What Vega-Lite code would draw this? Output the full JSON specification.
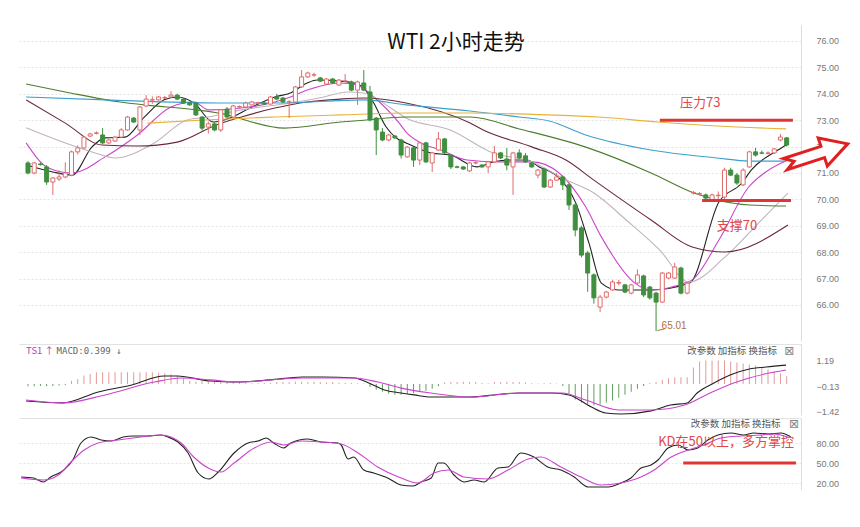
{
  "$schema": "https://vega.github.io/schema/vega-lite/v6.json",
  "background": "white",
  "padding": {"left": 18, "top": 25, "right": 0, "bottom": 0},
  "bounds": "flush",
  "spacing": 3,
  "resolve": {"scale": {"color": "independent", "x": "independent", "y": "independent"}},
  "config": {"view": {"stroke": null}, "axis": {"labelFont": "Liberation Sans", "labelFontSize": 9, "labelColor": "#777", "title": null, "labelOverlap": false}},
  "datasets": {
    "k": [
      {"i":0,"o":71.38,"c":71.0,"h":71.45,"l":70.95},{"i":1,"o":71.0,"c":71.38,"h":71.42,"l":70.95},{"i":2,"o":71.34,"c":71.32,"h":71.4,"l":71.28},{"i":3,"o":71.23,"c":70.66,"h":71.3,"l":70.55},{"i":4,"o":70.66,"c":70.81,"h":70.85,"l":70.17},{"i":5,"o":70.77,"c":70.85,"h":71.1,"l":70.7},{"i":6,"o":70.85,"c":71.0,"h":71.4,"l":70.8},{"i":7,"o":70.92,"c":71.8,"h":71.85,"l":70.88},{"i":8,"o":71.8,"c":71.95,"h":72.05,"l":71.7},{"i":9,"o":71.95,"c":72.36,"h":72.4,"l":71.9},
      {"i":10,"o":72.4,"c":72.48,"h":72.52,"l":72.36},{"i":11,"o":72.5,"c":72.52,"h":72.58,"l":72.46},{"i":12,"o":72.44,"c":72.14,"h":72.7,"l":72.1},{"i":13,"o":72.14,"c":72.25,"h":72.3,"l":72.1},{"i":14,"o":72.21,"c":72.36,"h":72.4,"l":72.18},{"i":15,"o":72.36,"c":72.63,"h":72.7,"l":72.32},{"i":16,"o":72.63,"c":73.12,"h":73.16,"l":72.6},{"i":17,"o":73.08,"c":72.93,"h":73.12,"l":72.9},{"i":18,"o":72.63,"c":73.5,"h":73.54,"l":72.44},{"i":19,"o":73.54,"c":73.8,"h":73.95,"l":73.5},
      {"i":20,"o":73.76,"c":73.78,"h":73.9,"l":73.62},{"i":21,"o":73.77,"c":73.88,"h":73.92,"l":73.74},{"i":22,"o":73.84,"c":73.86,"h":73.92,"l":73.8},{"i":23,"o":73.88,"c":73.95,"h":74.1,"l":73.85},{"i":24,"o":73.95,"c":73.8,"h":74.0,"l":73.76},{"i":25,"o":73.8,"c":73.65,"h":73.84,"l":73.62},{"i":26,"o":73.65,"c":73.58,"h":73.7,"l":73.55},{"i":27,"o":73.65,"c":73.2,"h":73.7,"l":73.16},{"i":28,"o":73.12,"c":72.7,"h":73.16,"l":72.6},{"i":29,"o":72.74,"c":72.86,"h":72.95,"l":72.5},
      {"i":30,"o":72.86,"c":72.63,"h":72.92,"l":72.58},{"i":31,"o":72.63,"c":73.39,"h":73.42,"l":72.55},{"i":32,"o":73.42,"c":73.12,"h":73.5,"l":73.08},{"i":33,"o":73.12,"c":73.54,"h":73.58,"l":73.08},{"i":34,"o":73.5,"c":73.52,"h":73.56,"l":73.46},{"i":35,"o":73.5,"c":73.65,"h":73.7,"l":73.46},{"i":36,"o":73.58,"c":73.69,"h":73.73,"l":73.55},{"i":37,"o":73.64,"c":73.66,"h":73.7,"l":73.6},{"i":38,"o":73.65,"c":73.61,"h":73.68,"l":73.58},{"i":39,"o":73.61,"c":73.88,"h":73.92,"l":73.58},
      {"i":40,"o":73.88,"c":73.8,"h":74.0,"l":73.76},{"i":41,"o":73.84,"c":73.69,"h":73.88,"l":73.65},{"i":42,"o":73.69,"c":73.7,"h":73.76,"l":73.08},{"i":43,"o":73.69,"c":74.26,"h":74.3,"l":73.6},{"i":44,"o":74.26,"c":74.64,"h":74.9,"l":74.22},{"i":45,"o":74.64,"c":74.79,"h":74.84,"l":74.6},{"i":46,"o":74.71,"c":74.72,"h":74.8,"l":74.64},{"i":47,"o":74.6,"c":74.48,"h":74.64,"l":74.45},{"i":48,"o":74.37,"c":74.56,"h":74.6,"l":74.33},{"i":49,"o":74.56,"c":74.41,"h":74.6,"l":74.37},
      {"i":50,"o":74.33,"c":74.52,"h":74.56,"l":74.3},{"i":51,"o":74.48,"c":74.49,"h":74.75,"l":74.45},{"i":52,"o":74.45,"c":74.14,"h":74.5,"l":74.1},{"i":53,"o":74.14,"c":74.45,"h":74.5,"l":73.58},{"i":54,"o":74.41,"c":74.14,"h":74.9,"l":74.1},{"i":55,"o":74.07,"c":73.01,"h":74.3,"l":72.95},{"i":56,"o":73.08,"c":72.63,"h":73.12,"l":71.68},{"i":57,"o":72.55,"c":72.25,"h":72.7,"l":72.2},{"i":58,"o":72.25,"c":72.44,"h":72.48,"l":72.2},{"i":59,"o":72.4,"c":72.33,"h":72.44,"l":72.3},
      {"i":60,"o":72.25,"c":71.68,"h":72.3,"l":71.55},{"i":61,"o":71.61,"c":71.98,"h":72.02,"l":71.58},{"i":62,"o":71.95,"c":71.49,"h":71.98,"l":71.23},{"i":63,"o":71.49,"c":72.14,"h":72.18,"l":71.3},{"i":64,"o":72.14,"c":71.42,"h":72.18,"l":71.38},{"i":65,"o":71.38,"c":71.76,"h":71.8,"l":71.04},{"i":66,"o":71.87,"c":72.29,"h":72.55,"l":71.84},{"i":67,"o":72.29,"c":71.76,"h":72.33,"l":71.72},{"i":68,"o":71.68,"c":71.23,"h":71.72,"l":71.15},{"i":69,"o":71.23,"c":71.22,"h":71.28,"l":71.18},
      {"i":70,"o":71.23,"c":71.15,"h":71.26,"l":71.12},{"i":71,"o":71.08,"c":71.38,"h":71.42,"l":71.04},{"i":72,"o":71.38,"c":71.39,"h":71.45,"l":71.33},{"i":73,"o":71.3,"c":71.23,"h":71.34,"l":71.2},{"i":74,"o":71.23,"c":71.42,"h":71.46,"l":71.0},{"i":75,"o":71.42,"c":71.76,"h":72.02,"l":71.38},{"i":76,"o":71.76,"c":71.57,"h":71.8,"l":71.53},{"i":77,"o":71.53,"c":71.3,"h":71.95,"l":71.1},{"i":78,"o":71.23,"c":71.76,"h":71.8,"l":70.17},{"i":79,"o":71.76,"c":71.57,"h":71.9,"l":71.53},
      {"i":80,"o":71.65,"c":71.42,"h":71.76,"l":71.38},{"i":81,"o":71.38,"c":71.23,"h":71.42,"l":71.2},{"i":82,"o":70.92,"c":71.11,"h":71.15,"l":70.8},{"i":83,"o":71.15,"c":70.47,"h":71.2,"l":70.43},{"i":84,"o":70.47,"c":70.73,"h":70.77,"l":70.43},{"i":85,"o":70.73,"c":70.85,"h":71.0,"l":70.7},{"i":86,"o":70.85,"c":70.55,"h":70.9,"l":70.35},{"i":87,"o":70.55,"c":69.79,"h":70.6,"l":69.6},{"i":88,"o":69.79,"c":68.84,"h":69.85,"l":68.6},{"i":89,"o":68.92,"c":67.89,"h":69.0,"l":67.8},
      {"i":90,"o":67.97,"c":67.21,"h":68.05,"l":66.5},{"i":91,"o":67.14,"c":66.27,"h":67.2,"l":66.05},{"i":92,"o":65.92,"c":66.3,"h":66.38,"l":65.73},{"i":93,"o":66.3,"c":66.49,"h":66.53,"l":66.25},{"i":94,"o":66.57,"c":66.87,"h":66.95,"l":66.53},{"i":95,"o":66.83,"c":66.85,"h":66.95,"l":66.75},{"i":96,"o":66.76,"c":66.49,"h":66.8,"l":66.45},{"i":97,"o":66.45,"c":66.76,"h":66.8,"l":66.4},{"i":98,"o":66.83,"c":67.14,"h":67.35,"l":66.8},{"i":99,"o":67.1,"c":66.38,"h":67.15,"l":66.3},
      {"i":100,"o":66.68,"c":66.27,"h":66.72,"l":66.2},{"i":101,"o":66.45,"c":66.11,"h":66.5,"l":65.01},{"i":102,"o":66.11,"c":67.21,"h":67.25,"l":66.08},{"i":103,"o":67.02,"c":67.21,"h":67.25,"l":66.98},{"i":104,"o":67.02,"c":67.44,"h":67.6,"l":66.98},{"i":105,"o":67.4,"c":66.45,"h":67.45,"l":66.4},{"i":106,"o":66.45,"c":66.83,"h":66.87,"l":66.4},{"i":107,"o":70.24,"c":70.26,"h":70.32,"l":70.18},{"i":108,"o":70.2,"c":70.22,"h":70.28,"l":70.15},{"i":109,"o":70.17,"c":70.05,"h":70.22,"l":70.0},
      {"i":110,"o":69.98,"c":70.17,"h":70.22,"l":69.94},{"i":111,"o":70.14,"c":70.16,"h":70.3,"l":70.0},{"i":112,"o":70.09,"c":71.11,"h":71.2,"l":70.0},{"i":113,"o":71.11,"c":70.92,"h":71.2,"l":70.88},{"i":114,"o":70.92,"c":70.62,"h":71.0,"l":70.55},{"i":115,"o":70.55,"c":71.11,"h":71.18,"l":70.5},{"i":116,"o":71.23,"c":71.8,"h":71.84,"l":71.2},{"i":117,"o":71.8,"c":71.68,"h":71.95,"l":71.62},{"i":118,"o":71.76,"c":71.75,"h":71.85,"l":71.72},{"i":119,"o":71.74,"c":71.76,"h":71.82,"l":71.7},
      {"i":120,"o":71.76,"c":71.91,"h":71.95,"l":71.72},{"i":121,"o":72.25,"c":72.36,"h":72.48,"l":72.2},{"i":122,"o":72.33,"c":72.06,"h":72.36,"l":72.0}
    ],
    "ma": [
      {"s":"MA5","i":-0.3,"p":71.3},{"s":"MA5","i":4.0,"p":71.04},{"s":"MA5","i":7.1,"p":70.92},{"s":"MA5","i":10.3,"p":71.99},{"s":"MA5","i":12.4,"p":72.33},{"s":"MA5","i":15.6,"p":72.36},{"s":"MA5","i":18.7,"p":73.12},{"s":"MA5","i":21.9,"p":73.77},{"s":"MA5","i":24.0,"p":73.88},{"s":"MA5","i":26.7,"p":73.65},{"s":"MA5","i":29.8,"p":72.93},{"s":"MA5","i":32.5,"p":73.08},{"s":"MA5","i":35.7,"p":73.46},{"s":"MA5","i":39.7,"p":73.88},{"s":"MA5","i":42.2,"p":74.03},{"s":"MA5","i":44.9,"p":74.41},{"s":"MA5","i":46.5,"p":74.52},{"s":"MA5","i":50.2,"p":74.48},{"s":"MA5","i":52.4,"p":74.41},{"s":"MA5","i":54.0,"p":74.22},{"s":"MA5","i":55.6,"p":73.65},{"s":"MA5","i":57.6,"p":72.74},{"s":"MA5","i":59.2,"p":72.33},{"s":"MA5","i":60.8,"p":72.14},{"s":"MA5","i":64.8,"p":71.76},{"s":"MA5","i":67.9,"p":71.68},{"s":"MA5","i":72.2,"p":71.23},{"s":"MA5","i":74.8,"p":71.42},{"s":"MA5","i":77.5,"p":71.49},{"s":"MA5","i":80.2,"p":71.49},{"s":"MA5","i":82.2,"p":71.23},{"s":"MA5","i":85.4,"p":70.81},{"s":"MA5","i":88.1,"p":69.86},{"s":"MA5","i":90.2,"p":68.35},{"s":"MA5","i":92.2,"p":66.83},{"s":"MA5","i":94.9,"p":66.57},{"s":"MA5","i":100.2,"p":66.57},{"s":"MA5","i":106.4,"p":66.83},{"s":"MA5","i":111.1,"p":69.9},{"s":"MA5","i":114.8,"p":70.62},{"s":"MA5","i":116.3,"p":71.11},{"s":"MA5","i":120.6,"p":71.87},{"s":"MA5","i":122.2,"p":72.1},
      {"s":"MA10","i":-0.3,"p":72.14},{"s":"MA10","i":3.3,"p":71.19},{"s":"MA10","i":7.1,"p":71.0},{"s":"MA10","i":12.4,"p":71.61},{"s":"MA10","i":17.6,"p":72.44},{"s":"MA10","i":23.0,"p":73.5},{"s":"MA10","i":26.7,"p":73.69},{"s":"MA10","i":29.0,"p":73.39},{"s":"MA10","i":34.3,"p":73.46},{"s":"MA10","i":39.7,"p":73.69},{"s":"MA10","i":42.2,"p":73.88},{"s":"MA10","i":44.9,"p":74.14},{"s":"MA10","i":50.2,"p":74.41},{"s":"MA10","i":52.9,"p":74.33},{"s":"MA10","i":55.6,"p":73.88},{"s":"MA10","i":59.7,"p":72.89},{"s":"MA10","i":60.8,"p":72.55},{"s":"MA10","i":63.2,"p":72.14},{"s":"MA10","i":66.4,"p":71.87},{"s":"MA10","i":70.6,"p":71.49},{"s":"MA10","i":75.9,"p":71.42},{"s":"MA10","i":81.1,"p":71.42},{"s":"MA10","i":85.4,"p":71.0},{"s":"MA10","i":89.7,"p":69.71},{"s":"MA10","i":92.2,"p":68.58},{"s":"MA10","i":97.6,"p":66.83},{"s":"MA10","i":100.2,"p":66.57},{"s":"MA10","i":105.6,"p":66.83},{"s":"MA10","i":106.8,"p":66.95},{"s":"MA10","i":111.1,"p":68.46},{"s":"MA10","i":115.9,"p":70.47},{"s":"MA10","i":118.4,"p":71.0},{"s":"MA10","i":122.2,"p":71.49},
      {"s":"MA20","i":-0.3,"p":72.71},{"s":"MA20","i":10.8,"p":71.76},{"s":"MA20","i":14.0,"p":71.57},{"s":"MA20","i":20.3,"p":72.14},{"s":"MA20","i":25.6,"p":73.01},{"s":"MA20","i":29.0,"p":73.12},{"s":"MA20","i":34.3,"p":73.39},{"s":"MA20","i":42.2,"p":73.65},{"s":"MA20","i":47.6,"p":73.88},{"s":"MA20","i":51.3,"p":74.07},{"s":"MA20","i":54.0,"p":74.03},{"s":"MA20","i":58.1,"p":73.5},{"s":"MA20","i":60.8,"p":73.08},{"s":"MA20","i":67.9,"p":72.63},{"s":"MA20","i":74.8,"p":71.76},{"s":"MA20","i":81.1,"p":71.42},{"s":"MA20","i":86.5,"p":70.74},{"s":"MA20","i":91.0,"p":70.24},{"s":"MA20","i":96.2,"p":69.22},{"s":"MA20","i":101.6,"p":68.08},{"s":"MA20","i":106.3,"p":66.87},{"s":"MA20","i":112.1,"p":67.82},{"s":"MA20","i":117.5,"p":69.11},{"s":"MA20","i":122.2,"p":70.24},
      {"s":"MA30","i":-0.3,"p":73.77},{"s":"MA30","i":6.0,"p":72.89},{"s":"MA30","i":11.9,"p":72.06},{"s":"MA30","i":17.6,"p":72.02},{"s":"MA30","i":24.0,"p":72.17},{"s":"MA30","i":30.3,"p":72.82},{"s":"MA30","i":34.3,"p":73.12},{"s":"MA30","i":39.7,"p":73.46},{"s":"MA30","i":44.9,"p":73.69},{"s":"MA30","i":50.2,"p":73.8},{"s":"MA30","i":54.0,"p":73.84},{"s":"MA30","i":60.8,"p":73.65},{"s":"MA30","i":71.1,"p":72.89},{"s":"MA30","i":73.2,"p":72.63},{"s":"MA30","i":81.1,"p":71.98},{"s":"MA30","i":86.5,"p":71.49},{"s":"MA30","i":91.0,"p":70.73},{"s":"MA30","i":100.2,"p":69.22},{"s":"MA30","i":106.8,"p":68.2},{"s":"MA30","i":112.1,"p":68.01},{"s":"MA30","i":122.2,"p":69.03},
      {"s":"MA60","i":-0.3,"p":74.37},{"s":"MA60","i":6.0,"p":74.07},{"s":"MA60","i":14.8,"p":73.69},{"s":"MA60","i":18.7,"p":73.58},{"s":"MA60","i":27.1,"p":73.39},{"s":"MA60","i":30.6,"p":73.27},{"s":"MA60","i":41.3,"p":72.7},{"s":"MA60","i":50.2,"p":72.93},{"s":"MA60","i":54.0,"p":73.0},{"s":"MA60","i":60.8,"p":73.12},{"s":"MA60","i":71.1,"p":73.12},{"s":"MA60","i":79.0,"p":72.67},{"s":"MA60","i":89.7,"p":71.98},{"s":"MA60","i":100.2,"p":71.0},{"s":"MA60","i":107.1,"p":70.24},{"s":"MA60","i":110.8,"p":69.98},{"s":"MA60","i":116.0,"p":69.79},{"s":"MA60","i":121.9,"p":69.75},
      {"s":"MA120","i":-0.3,"p":73.88},{"s":"MA120","i":12.4,"p":73.77},{"s":"MA120","i":30.6,"p":73.65},{"s":"MA120","i":39.7,"p":73.65},{"s":"MA120","i":54.0,"p":73.77},{"s":"MA120","i":60.8,"p":73.58},{"s":"MA120","i":71.1,"p":73.35},{"s":"MA120","i":79.0,"p":73.12},{"s":"MA120","i":83.8,"p":72.97},{"s":"MA120","i":89.7,"p":72.44},{"s":"MA120","i":100.2,"p":71.87},{"s":"MA120","i":110.8,"p":71.57},{"s":"MA120","i":116.0,"p":71.45},{"s":"MA120","i":121.9,"p":71.45},
      {"s":"MA250","i":19.2,"p":72.89},{"s":"MA250","i":28.3,"p":73.01},{"s":"MA250","i":39.7,"p":73.12},{"s":"MA250","i":50.2,"p":73.2},{"s":"MA250","i":60.8,"p":73.27},{"s":"MA250","i":71.1,"p":73.27},{"s":"MA250","i":83.8,"p":73.2},{"s":"MA250","i":91.8,"p":73.12},{"s":"MA250","i":101.3,"p":72.93},{"s":"MA250","i":110.8,"p":72.78},{"s":"MA250","i":121.9,"p":72.67}
    ],
    "macd": [
      {"s":"DIF","i":-0.3,"v":-0.87},{"s":"DIF","i":5.6,"v":-0.97},{"s":"DIF","i":11.3,"v":-0.41},{"s":"DIF","i":16.7,"v":-0.05},{"s":"DIF","i":21.9,"v":0.41},{"s":"DIF","i":24.0,"v":0.41},{"s":"DIF","i":29.4,"v":0.15},{"s":"DIF","i":33.5,"v":0.1},{"s":"DIF","i":38.9,"v":0.21},{"s":"DIF","i":44.1,"v":0.36},{"s":"DIF","i":47.3,"v":0.36},{"s":"DIF","i":52.5,"v":0.31},{"s":"DIF","i":54.8,"v":0.05},{"s":"DIF","i":57.3,"v":-0.31},{"s":"DIF","i":60.0,"v":-0.46},{"s":"DIF","i":62.1,"v":-0.56},{"s":"DIF","i":64.8,"v":-0.67},{"s":"DIF","i":71.1,"v":-0.67},{"s":"DIF","i":76.3,"v":-0.51},{"s":"DIF","i":79.0,"v":-0.46},{"s":"DIF","i":84.3,"v":-0.46},{"s":"DIF","i":87.0,"v":-0.56},{"s":"DIF","i":90.6,"v":-1.18},{"s":"DIF","i":92.9,"v":-1.49},{"s":"DIF","i":95.4,"v":-1.54},{"s":"DIF","i":100.2,"v":-1.38},{"s":"DIF","i":103.3,"v":-1.08},{"s":"DIF","i":106.0,"v":-0.97},{"s":"DIF","i":107.6,"v":-0.46},{"s":"DIF","i":110.3,"v":0.05},{"s":"DIF","i":112.9,"v":0.46},{"s":"DIF","i":116.0,"v":0.77},{"s":"DIF","i":118.7,"v":0.87},{"s":"DIF","i":121.9,"v":0.97},
      {"s":"DEA","i":-0.3,"v":-0.82},{"s":"DEA","i":5.7,"v":-0.97},{"s":"DEA","i":12.4,"v":-0.56},{"s":"DEA","i":20.3,"v":0.1},{"s":"DEA","i":24.6,"v":0.31},{"s":"DEA","i":29.4,"v":0.21},{"s":"DEA","i":33.5,"v":0.1},{"s":"DEA","i":44.1,"v":0.31},{"s":"DEA","i":52.5,"v":0.31},{"s":"DEA","i":56.3,"v":0.1},{"s":"DEA","i":60.0,"v":-0.21},{"s":"DEA","i":64.8,"v":-0.46},{"s":"DEA","i":71.1,"v":-0.67},{"s":"DEA","i":79.0,"v":-0.46},{"s":"DEA","i":85.9,"v":-0.46},{"s":"DEA","i":89.7,"v":-0.82},{"s":"DEA","i":94.9,"v":-1.33},{"s":"DEA","i":100.2,"v":-1.33},{"s":"DEA","i":105.6,"v":-1.08},{"s":"DEA","i":109.7,"v":-0.46},{"s":"DEA","i":113.5,"v":0.05},{"s":"DEA","i":116.0,"v":0.31},{"s":"DEA","i":119.2,"v":0.56},{"s":"DEA","i":121.9,"v":0.72}
    ],
    "hist": [
      {"i":0,"v":-0.12},{"i":1,"v":-0.12},{"i":2,"v":-0.1},{"i":3,"v":-0.12},{"i":4,"v":-0.1},{"i":5,"v":-0.08},{"i":6,"v":-0.05},{"i":7,"v":0.17},{"i":8,"v":0.26},{"i":9,"v":0.43},
      {"i":10,"v":0.51},{"i":11,"v":0.6},{"i":12,"v":0.6},{"i":13,"v":0.6},{"i":14,"v":0.6},{"i":15,"v":0.6},{"i":16,"v":0.6},{"i":17,"v":0.6},{"i":18,"v":0.6},{"i":19,"v":0.6},
      {"i":20,"v":0.6},{"i":21,"v":0.58},{"i":22,"v":0.55},{"i":23,"v":0.5},{"i":24,"v":0.42},{"i":25,"v":0.3},{"i":26,"v":0.15},{"i":27,"v":0.12},{"i":28,"v":0.15},{"i":29,"v":0.12},
      {"i":30,"v":0.15},{"i":31,"v":0.12},{"i":32,"v":0.15},{"i":33,"v":0.12},{"i":34,"v":0.1},{"i":35,"v":0.05},{"i":36,"v":0.04},{"i":37,"v":0.04},{"i":38,"v":0.05},{"i":39,"v":0.05},
      {"i":40,"v":0.1},{"i":41,"v":0.12},{"i":42,"v":0.1},{"i":43,"v":0.12},{"i":44,"v":0.12},{"i":45,"v":0.1},{"i":46,"v":0.12},{"i":47,"v":0.1},{"i":48,"v":0.08},{"i":49,"v":0.1},
      {"i":50,"v":0.08},{"i":51,"v":0.06},{"i":52,"v":0.05},{"i":53,"v":0.04},{"i":54,"v":0.03},{"i":55,"v":-0.15},{"i":56,"v":-0.3},{"i":57,"v":-0.4},{"i":58,"v":-0.5},{"i":59,"v":-0.55},
      {"i":60,"v":-0.55},{"i":61,"v":-0.5},{"i":62,"v":-0.48},{"i":63,"v":-0.4},{"i":64,"v":-0.35},{"i":65,"v":-0.25},{"i":66,"v":-0.12},{"i":67,"v":0.08},{"i":68,"v":0.1},{"i":69,"v":0.1},
      {"i":70,"v":0.12},{"i":71,"v":0.1},{"i":72,"v":0.1},{"i":73,"v":0.05},{"i":74,"v":0.04},{"i":75,"v":0.1},{"i":76,"v":0.1},{"i":77,"v":0.12},{"i":78,"v":0.1},{"i":79,"v":0.1},
      {"i":80,"v":0.08},{"i":81,"v":0.04},{"i":82,"v":0.03},{"i":83,"v":0.04},{"i":84,"v":0.05},{"i":85,"v":0.03},{"i":86,"v":-0.1},{"i":87,"v":-0.5},{"i":88,"v":-0.8},{"i":89,"v":-0.95},
      {"i":90,"v":-1.05},{"i":91,"v":-1.1},{"i":92,"v":-1.05},{"i":93,"v":-0.95},{"i":94,"v":-0.85},{"i":95,"v":-0.7},{"i":96,"v":-0.55},{"i":97,"v":-0.4},{"i":98,"v":-0.25},{"i":99,"v":-0.1},
      {"i":100,"v":0.05},{"i":101,"v":0.1},{"i":102,"v":0.2},{"i":103,"v":0.3},{"i":104,"v":0.35},{"i":105,"v":0.35},{"i":106,"v":0.35},{"i":107,"v":0.85},{"i":108,"v":1.15},{"i":109,"v":1.2},
      {"i":110,"v":1.2},{"i":111,"v":1.2},{"i":112,"v":1.2},{"i":113,"v":1.15},{"i":114,"v":1.1},{"i":115,"v":1.05},{"i":116,"v":1.0},{"i":117,"v":0.95},{"i":118,"v":0.85},{"i":119,"v":0.75},
      {"i":120,"v":0.65},{"i":121,"v":0.55},{"i":122,"v":0.4}
    ],
    "kd": [
      {"s":"K","i":-0.3,"v":29},{"s":"K","i":1.7,"v":27.5},{"s":"K","i":3.2,"v":21.5},{"s":"K","i":4.4,"v":29},{"s":"K","i":6.5,"v":39.5},{"s":"K","i":7.9,"v":54.5},{"s":"K","i":9.2,"v":80},{"s":"K","i":10.8,"v":89},{"s":"K","i":12.4,"v":84.5},{"s":"K","i":14.0,"v":83},{"s":"K","i":15.9,"v":89},{"s":"K","i":17.6,"v":90.5},{"s":"K","i":19.8,"v":90.5},{"s":"K","i":21.9,"v":92},{"s":"K","i":23.0,"v":89},{"s":"K","i":24.6,"v":81.5},{"s":"K","i":26.2,"v":65},{"s":"K","i":27.8,"v":35},{"s":"K","i":29.5,"v":26},{"s":"K","i":31.0,"v":36.5},{"s":"K","i":33.5,"v":65},{"s":"K","i":35.7,"v":80},{"s":"K","i":37.3,"v":83},{"s":"K","i":38.6,"v":87.5},{"s":"K","i":39.8,"v":80},{"s":"K","i":41.4,"v":72.5},{"s":"K","i":42.5,"v":80},{"s":"K","i":45.2,"v":86},{"s":"K","i":47.3,"v":81.5},{"s":"K","i":50.0,"v":80},{"s":"K","i":50.5,"v":77},{"s":"K","i":51.6,"v":56},{"s":"K","i":52.5,"v":59},{"s":"K","i":54.1,"v":39.5},{"s":"K","i":55.7,"v":35},{"s":"K","i":57.9,"v":27.5},{"s":"K","i":60.0,"v":17},{"s":"K","i":61.9,"v":15.5},{"s":"K","i":63.2,"v":21.5},{"s":"K","i":64.8,"v":27.5},{"s":"K","i":65.9,"v":50},{"s":"K","i":66.8,"v":50},{"s":"K","i":68.4,"v":32},{"s":"K","i":70.0,"v":21.5},{"s":"K","i":71.6,"v":24.5},{"s":"K","i":73.2,"v":21.5},{"s":"K","i":75.4,"v":42.5},{"s":"K","i":77.0,"v":44},{"s":"K","i":79.0,"v":65},{"s":"K","i":81.1,"v":59},{"s":"K","i":83.3,"v":44},{"s":"K","i":85.4,"v":39.5},{"s":"K","i":87.5,"v":29},{"s":"K","i":89.7,"v":14},{"s":"K","i":92.9,"v":14},{"s":"K","i":94.9,"v":20},{"s":"K","i":96.5,"v":27.5},{"s":"K","i":98.1,"v":42.5},{"s":"K","i":99.7,"v":47},{"s":"K","i":100.8,"v":54.5},{"s":"K","i":102.4,"v":72.5},{"s":"K","i":104.0,"v":77},{"s":"K","i":105.6,"v":69.5},{"s":"K","i":107.1,"v":72.5},{"s":"K","i":108.7,"v":84.5},{"s":"K","i":110.3,"v":92},{"s":"K","i":112.4,"v":95},{"s":"K","i":114.4,"v":92},{"s":"K","i":116.0,"v":95},{"s":"K","i":118.3,"v":93.5},{"s":"K","i":120.3,"v":95},{"s":"K","i":121.9,"v":89},
      {"s":"D","i":-0.3,"v":27.5},{"s":"D","i":3.3,"v":24.5},{"s":"D","i":5.6,"v":32},{"s":"D","i":7.6,"v":51.5},{"s":"D","i":9.7,"v":69.5},{"s":"D","i":11.9,"v":80},{"s":"D","i":15.1,"v":84.5},{"s":"D","i":18.7,"v":89},{"s":"D","i":21.9,"v":92},{"s":"D","i":25.1,"v":80},{"s":"D","i":27.1,"v":59},{"s":"D","i":29.4,"v":42.5},{"s":"D","i":31.4,"v":36.5},{"s":"D","i":33.5,"v":50},{"s":"D","i":36.7,"v":72.5},{"s":"D","i":39.4,"v":81.5},{"s":"D","i":41.4,"v":77},{"s":"D","i":44.1,"v":83},{"s":"D","i":47.3,"v":81.5},{"s":"D","i":50.5,"v":78.5},{"s":"D","i":53.2,"v":65},{"s":"D","i":56.3,"v":44},{"s":"D","i":60.0,"v":27.5},{"s":"D","i":62.7,"v":20},{"s":"D","i":65.2,"v":35},{"s":"D","i":67.5,"v":39.5},{"s":"D","i":70.0,"v":29},{"s":"D","i":73.8,"v":26},{"s":"D","i":77.0,"v":39.5},{"s":"D","i":80.2,"v":56},{"s":"D","i":82.2,"v":59},{"s":"D","i":85.4,"v":44},{"s":"D","i":88.6,"v":29},{"s":"D","i":91.7,"v":17},{"s":"D","i":94.9,"v":20},{"s":"D","i":98.1,"v":29},{"s":"D","i":100.2,"v":39.5},{"s":"D","i":102.9,"v":59},{"s":"D","i":105.6,"v":69.5},{"s":"D","i":108.1,"v":77},{"s":"D","i":110.8,"v":87.5},{"s":"D","i":114.0,"v":90.5},{"s":"D","i":117.1,"v":92},{"s":"D","i":119.2,"v":93.5},{"s":"D","i":121.4,"v":89}
    ]
  },
  "vconcat": [
    {
      "width": 782,
      "height": 316,
      "title": {"text": "WTI 2小时走势", "offset": -28, "dx": 46, "fontSize": 21, "font": "Noto Sans CJK SC", "fontWeight": "normal", "color": "#111"},
      "resolve": {"axis": {"y": "independent"}},
      "layer": [
        {
          "data": {"name": "ma"},
          "mark": {"type": "line", "strokeWidth": 1.1, "interpolate": "monotone"},
          "encoding": {
            "x": {"field": "i", "type": "quantitative", "scale": {"domain": [-0.64, 123.5], "nice": false, "zero": false}, "axis": null},
            "y": {"field": "p", "type": "quantitative", "scale": {"domain": [64.636, 76.606], "nice": false, "zero": false},
                  "axis": {"orient": "right", "values": [76, 74, 72, 70, 68, 66], "format": ".2f", "ticks": false, "domain": true, "domainColor": "#dddddd", "grid": true, "gridColor": "#e4e4e4", "gridDash": [2, 2], "labelPadding": 15, "labelOverlap": false}},
            "color": {"field": "s", "type": "nominal", "legend": null,
                      "scale": {"domain": ["MA5", "MA10", "MA20", "MA30", "MA60", "MA120", "MA250"], "range": ["#222222", "#cc44cc", "#c2b4bc", "#6b2838", "#4e7d2e", "#3d9fcf", "#e8b23a"]}}
          }
        },
        {
          "data": {"name": "k"},
          "mark": {"type": "rule", "strokeWidth": 1},
          "encoding": {
            "x": {"field": "i", "type": "quantitative", "axis": null},
            "y": {"field": "l", "type": "quantitative",
                  "axis": {"orient": "right", "values": [75, 73, 71, 69, 67], "format": ".2f", "ticks": false, "domain": false, "grid": true, "gridColor": "#e4e4e4", "gridDash": [2, 2], "labelPadding": 15, "labelOverlap": false}},
            "y2": {"field": "h"},
            "color": {"condition": {"test": "datum.c >= datum.o", "value": "#e06c6c"}, "value": "#3f8f3f"}
          }
        },
        {
          "data": {"name": "k"},
          "mark": {"type": "bar", "size": 4, "strokeWidth": 1, "orient": "vertical"},
          "encoding": {
            "x": {"field": "i", "type": "quantitative", "axis": null},
            "y": {"field": "o", "type": "quantitative", "axis": null},
            "y2": {"field": "c"},
            "fill": {"condition": {"test": "datum.c >= datum.o", "value": "#ffffff"}, "value": "#3f8f3f"},
            "stroke": {"condition": {"test": "datum.c >= datum.o", "value": "#e06c6c"}, "value": "#3f8f3f"}
          }
        },
        {
          "data": {"values": [{"a": 101.6, "b": 123.0, "p": 73.0}, {"a": 108.4, "b": 122.7, "p": 69.96}]},
          "mark": {"type": "rule", "color": "#e03535", "strokeWidth": 3},
          "encoding": {
            "x": {"field": "a", "type": "quantitative", "axis": null},
            "x2": {"field": "b"},
            "y": {"field": "p", "type": "quantitative", "axis": null}
          }
        },
        {
          "data": {"values": [{"i": 108.1, "p": 73.65, "t": "压力73"}, {"i": 114.0, "p": 69.0, "t": "支撑70"}]},
          "mark": {"type": "text", "font": "Noto Sans CJK SC", "fontSize": 13, "color": "#e04848"},
          "encoding": {
            "x": {"field": "i", "type": "quantitative", "axis": null},
            "y": {"field": "p", "type": "quantitative", "axis": null},
            "text": {"field": "t"}
          }
        },
        {
          "data": {"values": [{"i": 103.9, "p": 65.22, "t": "65.01"}]},
          "mark": {"type": "text", "font": "Liberation Sans", "fontSize": 10, "color": "#b07030"},
          "encoding": {
            "x": {"field": "i", "type": "quantitative", "axis": null},
            "y": {"field": "p", "type": "quantitative", "axis": null},
            "text": {"field": "t"}
          }
        },
        {
          "data": {"values": [{"i": 101.2, "p": 65.03, "i2": 102.4, "p2": 65.1}]},
          "mark": {"type": "rule", "color": "#b07030", "strokeWidth": 1},
          "encoding": {
            "x": {"field": "i", "type": "quantitative", "axis": null},
            "y": {"field": "p", "type": "quantitative", "axis": null},
            "x2": {"field": "i2"},
            "y2": {"field": "p2"}
          }
        },
        {
          "data": {"values": [{"i": 126.8, "p": 71.72}]},
          "mark": {"type": "point", "shape": "M -1 -0.18 L 0.2 -0.18 L 0.2 -0.45 L 1 0 L 0.2 0.45 L 0.2 0.18 L -1 0.18 L -0.72 0 Z", "size": 4300, "angle": -18, "filled": true, "fill": "#ffffff", "stroke": "#e02020", "strokeWidth": 3, "opacity": 1},
          "encoding": {
            "x": {"field": "i", "type": "quantitative", "axis": null},
            "y": {"field": "p", "type": "quantitative", "axis": null}
          }
        }
      ]
    },
    {
      "width": 782,
      "height": 71,
      "resolve": {"axis": {"y": "independent"}},
      "layer": [
        {
          "data": {"name": "hist"},
          "mark": {"type": "bar", "size": 1},
          "encoding": {
            "x": {"field": "i", "type": "quantitative", "scale": {"domain": [-0.64, 123.5], "nice": false, "zero": false},
                  "axis": {"orient": "top", "labels": false, "ticks": false, "grid": false, "domain": true, "domainColor": "#e2e2e2"}},
            "y": {"field": "v", "type": "quantitative", "scale": {"domain": [-1.59, 2.051], "nice": false},
                  "axis": {"orient": "right", "values": [1.19, -1.42], "format": ".2f", "ticks": false, "domain": true, "domainColor": "#dddddd", "grid": false, "labelPadding": 15, "labelOverlap": false}},
            "color": {"condition": {"test": "datum.v >= 0", "value": "#e39a9a"}, "value": "#5f9f5f"}
          }
        },
        {
          "data": {"name": "macd"},
          "mark": {"type": "line", "strokeWidth": 1.1, "interpolate": "monotone"},
          "encoding": {
            "x": {"field": "i", "type": "quantitative"},
            "y": {"field": "v", "type": "quantitative",
                  "axis": {"orient": "right", "values": [-0.13], "format": ".2f", "ticks": false, "domain": false, "grid": false, "labelPadding": 15, "labelOverlap": false}},
            "color": {"field": "s", "type": "nominal", "legend": null, "scale": {"domain": ["DIF", "DEA"], "range": ["#222222", "#cc44cc"]}}
          }
        },
        {
          "data": {"values": [{"i": -0.3, "v": 1.69, "t": "TS1 ↑"}, {"i": 106.0, "v": 1.69, "t": "改参数  加指标  换指标"}]},
          "mark": {"type": "text", "align": "left", "font": "Noto Sans CJK SC", "fontSize": 9.5},
          "encoding": {
            "x": {"field": "i", "type": "quantitative"},
            "y": {"field": "v", "type": "quantitative", "axis": null},
            "text": {"field": "t"},
            "fill": {"condition": {"test": "datum.i < 0", "value": "#b044b0"}, "value": "#555555"}
          }
        },
        {
          "data": {"values": [{"i": 4.6, "v": 1.69, "t": "MACD:0.399 ↓"}]},
          "mark": {"type": "text", "align": "left", "font": "DejaVu Sans Mono", "fontSize": 9, "color": "#666666"},
          "encoding": {
            "x": {"field": "i", "type": "quantitative"},
            "y": {"field": "v", "type": "quantitative", "axis": null},
            "text": {"field": "t"}
          }
        },
        {
          "data": {"values": [{"i": 122.4, "v": 1.69, "t": "⊠"}]},
          "mark": {"type": "text", "font": "DejaVu Sans", "fontSize": 12, "color": "#888888"},
          "encoding": {
            "x": {"field": "i", "type": "quantitative"},
            "y": {"field": "v", "type": "quantitative", "axis": null},
            "text": {"field": "t"}
          }
        }
      ]
    },
    {
      "width": 782,
      "height": 72,
      "resolve": {"axis": {"y": "independent"}},
      "layer": [
        {
          "data": {"name": "kd"},
          "mark": {"type": "line", "strokeWidth": 1.1, "interpolate": "monotone"},
          "encoding": {
            "x": {"field": "i", "type": "quantitative", "scale": {"domain": [-0.64, 123.5], "nice": false, "zero": false},
                  "axis": {"orient": "top", "labels": false, "ticks": false, "grid": false, "domain": true, "domainColor": "#e2e2e2"}},
            "y": {"field": "v", "type": "quantitative", "scale": {"domain": [9.5, 117.5], "nice": false, "zero": false},
                  "axis": {"orient": "right", "values": [80, 20], "format": ".2f", "ticks": false, "domain": true, "domainColor": "#dddddd", "grid": true, "gridColor": "#e4e4e4", "gridDash": [2, 2], "labelPadding": 15, "labelOverlap": false}},
            "color": {"field": "s", "type": "nominal", "legend": null, "scale": {"domain": ["K", "D"], "range": ["#222222", "#cc44cc"]}}
          }
        },
        {
          "data": {"values": [{"a": 104.8, "b": 122.7, "v": 50}]},
          "mark": {"type": "rule", "color": "#e03535", "strokeWidth": 3},
          "encoding": {
            "x": {"field": "a", "type": "quantitative"},
            "x2": {"field": "b"},
            "y": {"field": "v", "type": "quantitative",
                  "axis": {"orient": "right", "values": [50], "format": ".2f", "ticks": false, "domain": false, "grid": true, "gridColor": "#e4e4e4", "gridDash": [2, 2], "labelPadding": 15, "labelOverlap": false}}
          }
        },
        {
          "data": {"values": [{"i": 111.6, "v": 82, "t": "KD在50以上，多方掌控"}]},
          "mark": {"type": "text", "font": "Noto Sans CJK SC", "fontSize": 13, "color": "#e04848"},
          "encoding": {
            "x": {"field": "i", "type": "quantitative"},
            "y": {"field": "v", "type": "quantitative", "axis": null},
            "text": {"field": "t"}
          }
        },
        {
          "data": {"values": [{"i": 106.0, "v": 108, "t": "改参数  加指标  换指标"}]},
          "mark": {"type": "text", "align": "left", "font": "Noto Sans CJK SC", "fontSize": 9.5, "color": "#555555"},
          "encoding": {
            "x": {"field": "i", "type": "quantitative"},
            "y": {"field": "v", "type": "quantitative", "axis": null},
            "text": {"field": "t"}
          }
        },
        {
          "data": {"values": [{"i": 122.4, "v": 108, "t": "⊠"}]},
          "mark": {"type": "text", "font": "DejaVu Sans", "fontSize": 12, "color": "#888888"},
          "encoding": {
            "x": {"field": "i", "type": "quantitative"},
            "y": {"field": "v", "type": "quantitative", "axis": null},
            "text": {"field": "t"}
          }
        }
      ]
    }
  ]
}
